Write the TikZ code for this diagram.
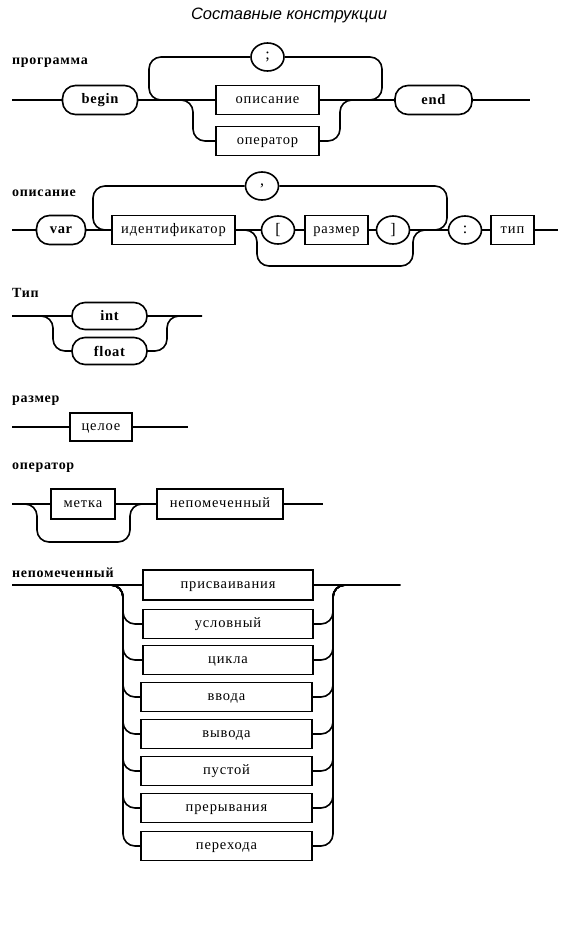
\documentclass[tikz,border=0pt]{standalone}
\usepackage{fontspec}
\setmainfont{Liberation Serif}
\newfontfamily\boxfont[LetterSpace=6]{Liberation Serif}
\newfontfamily\rulefont[LetterSpace=5]{Liberation Serif}
\newfontfamily\headfont{Liberation Sans}
\usepackage{tikz}
\usetikzlibrary{positioning,shapes,calc}

\begin{document}
\begin{tikzpicture}[x=1pt, y=-1pt,
heading/.style ={text centered, font=\headfont\itshape\fontsize{16.5}{18}\selectfont},
rulename/.style ={anchor=west, inner sep=0pt, font=\rulefont\bfseries\fontsize{14}{16}\selectfont},
terminal/.style ={rectangle, draw=black, line width=1.6pt, rounded corners=13pt, minimum height=29pt, text centered, font=\rulefont\bfseries\fontsize{14.5}{16}\selectfont},
nonterminal/.style ={rectangle, draw=black, line width=1.6pt, minimum height=29pt, text height=7.5pt, text depth=0pt, text centered, font=\boxfont\fontsize{14.5}{16}\selectfont},
symbol/.style ={ellipse, draw=black, line width=1.6pt, minimum width=33pt, minimum height=28pt, inner sep=0pt, font=\boxfont\fontsize{16}{17}\selectfont},
connection/.style ={-, line width=1.6pt},
rail/.style ={-, line width=1.6pt, rounded corners=12pt},
]
\useasboundingbox (0,0) rectangle (563,938);

\node (TITLE) [heading] at (289,15) {Составные конструкции};

% программа
\node (PROGLBL) [rulename] at (12,63) {программа};
\node (BEGIN) [terminal, minimum width=75pt] at (100,100) {begin};
\node (DESCR) [nonterminal, minimum width=103pt, right of=BEGIN, node distance=167.5pt] {описание};
\node (OPER) [nonterminal, minimum width=103pt, below of=DESCR, node distance=41pt] {оператор};
\node (SEMI) [symbol, above of=DESCR, node distance=43pt] {;};
\node (END) [terminal, minimum width=77pt, right of=DESCR, node distance=166pt] {end};
\coordinate (START1) at (12,100);
\coordinate (STOP1) at (530,100);
\coordinate (LOOP1L) at (149,100);
\coordinate (LOOP1R) at (382,100);
\coordinate (SKIP1L) at (193,141);
\coordinate (SKIP1R) at (340,100);

\draw[connection] (START1) -- (BEGIN);
\draw[connection] (BEGIN) -- (DESCR);
\draw[connection] (DESCR) -- (END);
\draw[connection] (END) -- (STOP1);
\draw[rail] (DESCR.west) -- (LOOP1L) |- (SEMI.west);
\draw[rail] (SEMI.east) -| (LOOP1R) -- (DESCR.east);
\draw[rail] (BEGIN.east) -| (SKIP1L) -- (OPER.west);
\draw[rail] (OPER.east) -| (SKIP1R) -- (END.west);

% описание
\node (DESCLBL) [rulename] at (12,193) {описание};
\node (VAR) [terminal, minimum width=49pt] at (61,230) {var};
\node (IDENT) [nonterminal, minimum width=123pt, right of=VAR, node distance=112.5pt] {идентификатор};
\node (LBR) [symbol, right of=IDENT, node distance=104.5pt] {[};
\node (SIZE) [nonterminal, minimum width=63pt, right of=LBR, node distance=58.5pt] {размер};
\node (RBR) [symbol, right of=SIZE, node distance=56.5pt] {]};
\node (COLON) [symbol, right of=RBR, node distance=72pt] {:};
\node (TYPE) [nonterminal, minimum width=43pt, right of=COLON, node distance=47.5pt] {тип};
\node (COMMA) [symbol, above of=LBR, node distance=44pt, xshift=-16pt] {,};
\coordinate (START2) at (12,230);
\coordinate (STOP2) at (558,230);
\coordinate (LOOP2L) at (93,230);
\coordinate (LOOP2R) at (447,230);
\coordinate (SKIP2L) at (257,266);
\coordinate (SKIP2R) at (413,266);

\draw[connection] (START2) -- (VAR);
\draw[connection] (VAR) -- (IDENT);
\draw[connection] (IDENT) -- (LBR);
\draw[connection] (LBR) -- (SIZE);
\draw[connection] (SIZE) -- (RBR);
\draw[connection] (RBR) -- (COLON);
\draw[connection] (COLON) -- (TYPE);
\draw[connection] (TYPE) -- (STOP2);
\draw[rail] (IDENT.west) -- (LOOP2L) |- (COMMA.west);
\draw[rail] (COMMA.east) -| (LOOP2R) -- (RBR.east);
\draw[rail] (IDENT.east) -| (SKIP2L) -- (SKIP2R) |- (COLON.west);

% Тип
\node (TYPLBL) [rulename] at (12,293) {Тип};
\node (INT) [terminal, minimum width=75pt, minimum height=27pt] at (109.5,316) {int};
\node (FLOAT) [terminal, minimum width=75pt, minimum height=27pt, below of=INT, node distance=35pt] {float};
\coordinate (START3) at (12,316);
\coordinate (STOP3) at (202,316);
\coordinate (SKIP3L) at (53,351);
\coordinate (SKIP3R) at (167,316);

\draw[connection] (START3) -- (INT);
\draw[connection] (INT) -- (STOP3);
\draw[rail] (START3) -| (SKIP3L) -- (FLOAT.west);
\draw[rail] (FLOAT.east) -| (SKIP3R) -- (STOP3);

% размер
\node (SIZELBL) [rulename] at (12,401) {размер};
\node (WHOLE) [nonterminal, minimum width=62pt, minimum height=28pt] at (101,427) {целое};
\coordinate (START4) at (12,427);
\coordinate (STOP4) at (188,427);

\draw[connection] (START4) -- (WHOLE);
\draw[connection] (WHOLE) -- (STOP4);

% оператор
\node (OPLBL) [rulename] at (12,468) {оператор};
\node (MARK) [nonterminal, minimum width=64pt, minimum height=30pt] at (83,504) {метка};
\node (UNLAB) [nonterminal, minimum width=126pt, minimum height=30pt, right of=MARK, node distance=137pt] {непомеченный};
\coordinate (START5) at (12,504);
\coordinate (STOP5) at (323,504);
\coordinate (SKIP5L) at (37,542);
\coordinate (SKIP5R) at (130,542);

\draw[connection] (START5) -- (MARK);
\draw[connection] (MARK) -- (UNLAB);
\draw[connection] (UNLAB) -- (STOP5);
\draw[rail] (START5) -| (SKIP5L) -- (SKIP5R) |- (UNLAB.west);

% непомеченный
\node (UNLBL) [rulename] at (12,573) {непомеченный};
\node (ASSIGN) [nonterminal, minimum width=170pt, minimum height=30pt] at (228,585) {присваивания};
\node (COND) [nonterminal, minimum width=170pt, below of=ASSIGN, node distance=39pt] {условный};
\node (CYCLE) [nonterminal, minimum width=170pt, below of=COND, node distance=36pt] {цикла};
\node (INPUT) [nonterminal, minimum width=171pt, below of=CYCLE, node distance=37pt, xshift=-1.5pt] {ввода};
\node (OUTPUT) [nonterminal, minimum width=171pt, below of=INPUT, node distance=37pt] {вывода};
\node (EMPTY) [nonterminal, minimum width=171pt, below of=OUTPUT, node distance=37pt] {пустой};
\node (BREAK) [nonterminal, minimum width=171pt, below of=EMPTY, node distance=37pt] {прерывания};
\node (JUMP) [nonterminal, minimum width=171pt, below of=BREAK, node distance=38pt] {перехода};
\coordinate (START6) at (12,585);
\coordinate (STOP6) at (400,585);
\coordinate (RAIL6L) at (123,585);
\coordinate (RAIL6R) at (333,585);

\draw[connection] (START6) -- (ASSIGN);
\draw[connection] (ASSIGN) -- (STOP6);
\draw[rail] (START6) -| (COND.west -| RAIL6L) -- (COND.west);
\draw[rail] (START6) -| (CYCLE.west -| RAIL6L) -- (CYCLE.west);
\draw[rail] (START6) -| (INPUT.west -| RAIL6L) -- (INPUT.west);
\draw[rail] (START6) -| (OUTPUT.west -| RAIL6L) -- (OUTPUT.west);
\draw[rail] (START6) -| (EMPTY.west -| RAIL6L) -- (EMPTY.west);
\draw[rail] (START6) -| (BREAK.west -| RAIL6L) -- (BREAK.west);
\draw[rail] (START6) -| (JUMP.west -| RAIL6L) -- (JUMP.west);
\draw[rail] (COND.east) -| (RAIL6R) -- (STOP6);
\draw[rail] (CYCLE.east) -| (RAIL6R) -- (STOP6);
\draw[rail] (INPUT.east) -| (RAIL6R) -- (STOP6);
\draw[rail] (OUTPUT.east) -| (RAIL6R) -- (STOP6);
\draw[rail] (EMPTY.east) -| (RAIL6R) -- (STOP6);
\draw[rail] (BREAK.east) -| (RAIL6R) -- (STOP6);
\draw[rail] (JUMP.east) -| (RAIL6R) -- (STOP6);

\end{tikzpicture}
\end{document}
